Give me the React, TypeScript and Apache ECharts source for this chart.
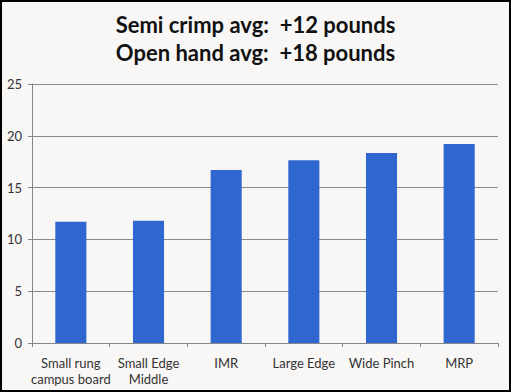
import React, { useEffect, useRef } from "react";
import * as echarts from "echarts";

const categories = ["Small rung\ncampus board", "Small Edge\nMiddle", "IMR", "Large Edge", "Wide Pinch", "MRP"];
const values = [11.7, 11.8, 16.7, 17.65, 18.35, 19.2];
const titleLines = ["Semi crimp avg:  +12 pounds", "Open hand avg:  +18 pounds"];

export default function App() {
  const ref = useRef<HTMLDivElement>(null);
  useEffect(() => {
    const chart = echarts.init(ref.current!, null, { renderer: "svg" });
    chart.setOption({
      animation: false,
      backgroundColor: "#f8f7f5",
      title: {
        text: titleLines.join("\n"),
        left: "center",
        top: 5,
        textStyle: { fontFamily: "Lato", fontWeight: "bold", fontSize: 22, lineHeight: 28, color: "#111" },
      },
      grid: { left: 32, right: 13, top: 84, bottom: 49 },
      xAxis: {
        type: "category",
        data: categories,
        axisLine: { lineStyle: { color: "#868686", width: 1 } },
        axisTick: { show: true, length: 4, lineStyle: { color: "#868686" } },
        axisLabel: { fontFamily: "Lato", fontSize: 13, color: "#333", lineHeight: 16, margin: 12, interval: 0 },
      },
      yAxis: {
        type: "value",
        min: 0,
        max: 25,
        interval: 5,
        axisLine: { show: true, lineStyle: { color: "#868686", width: 1 } },
        axisTick: { show: true, length: 4, lineStyle: { color: "#868686" } },
        axisLabel: { fontFamily: "Lato", fontSize: 13, color: "#333", margin: 10 },
        splitLine: { lineStyle: { color: "#8a8a8a", width: 1 } },
      },
      series: [
        {
          type: "bar",
          data: values,
          barWidth: "40%",
          itemStyle: { color: "#2f66cf" },
        },
      ],
      graphic: [
        {
          type: "rect",
          shape: { x: 1, y: 1, width: 509, height: 390 },
          style: { fill: "none", stroke: "#000", lineWidth: 2 },
          silent: true,
        },
      ],
    });
    return () => chart.dispose();
  }, []);
  return <div ref={ref} style={{ position: "fixed", left: 0, top: 0, width: 511, height: 392 }} />;
}
